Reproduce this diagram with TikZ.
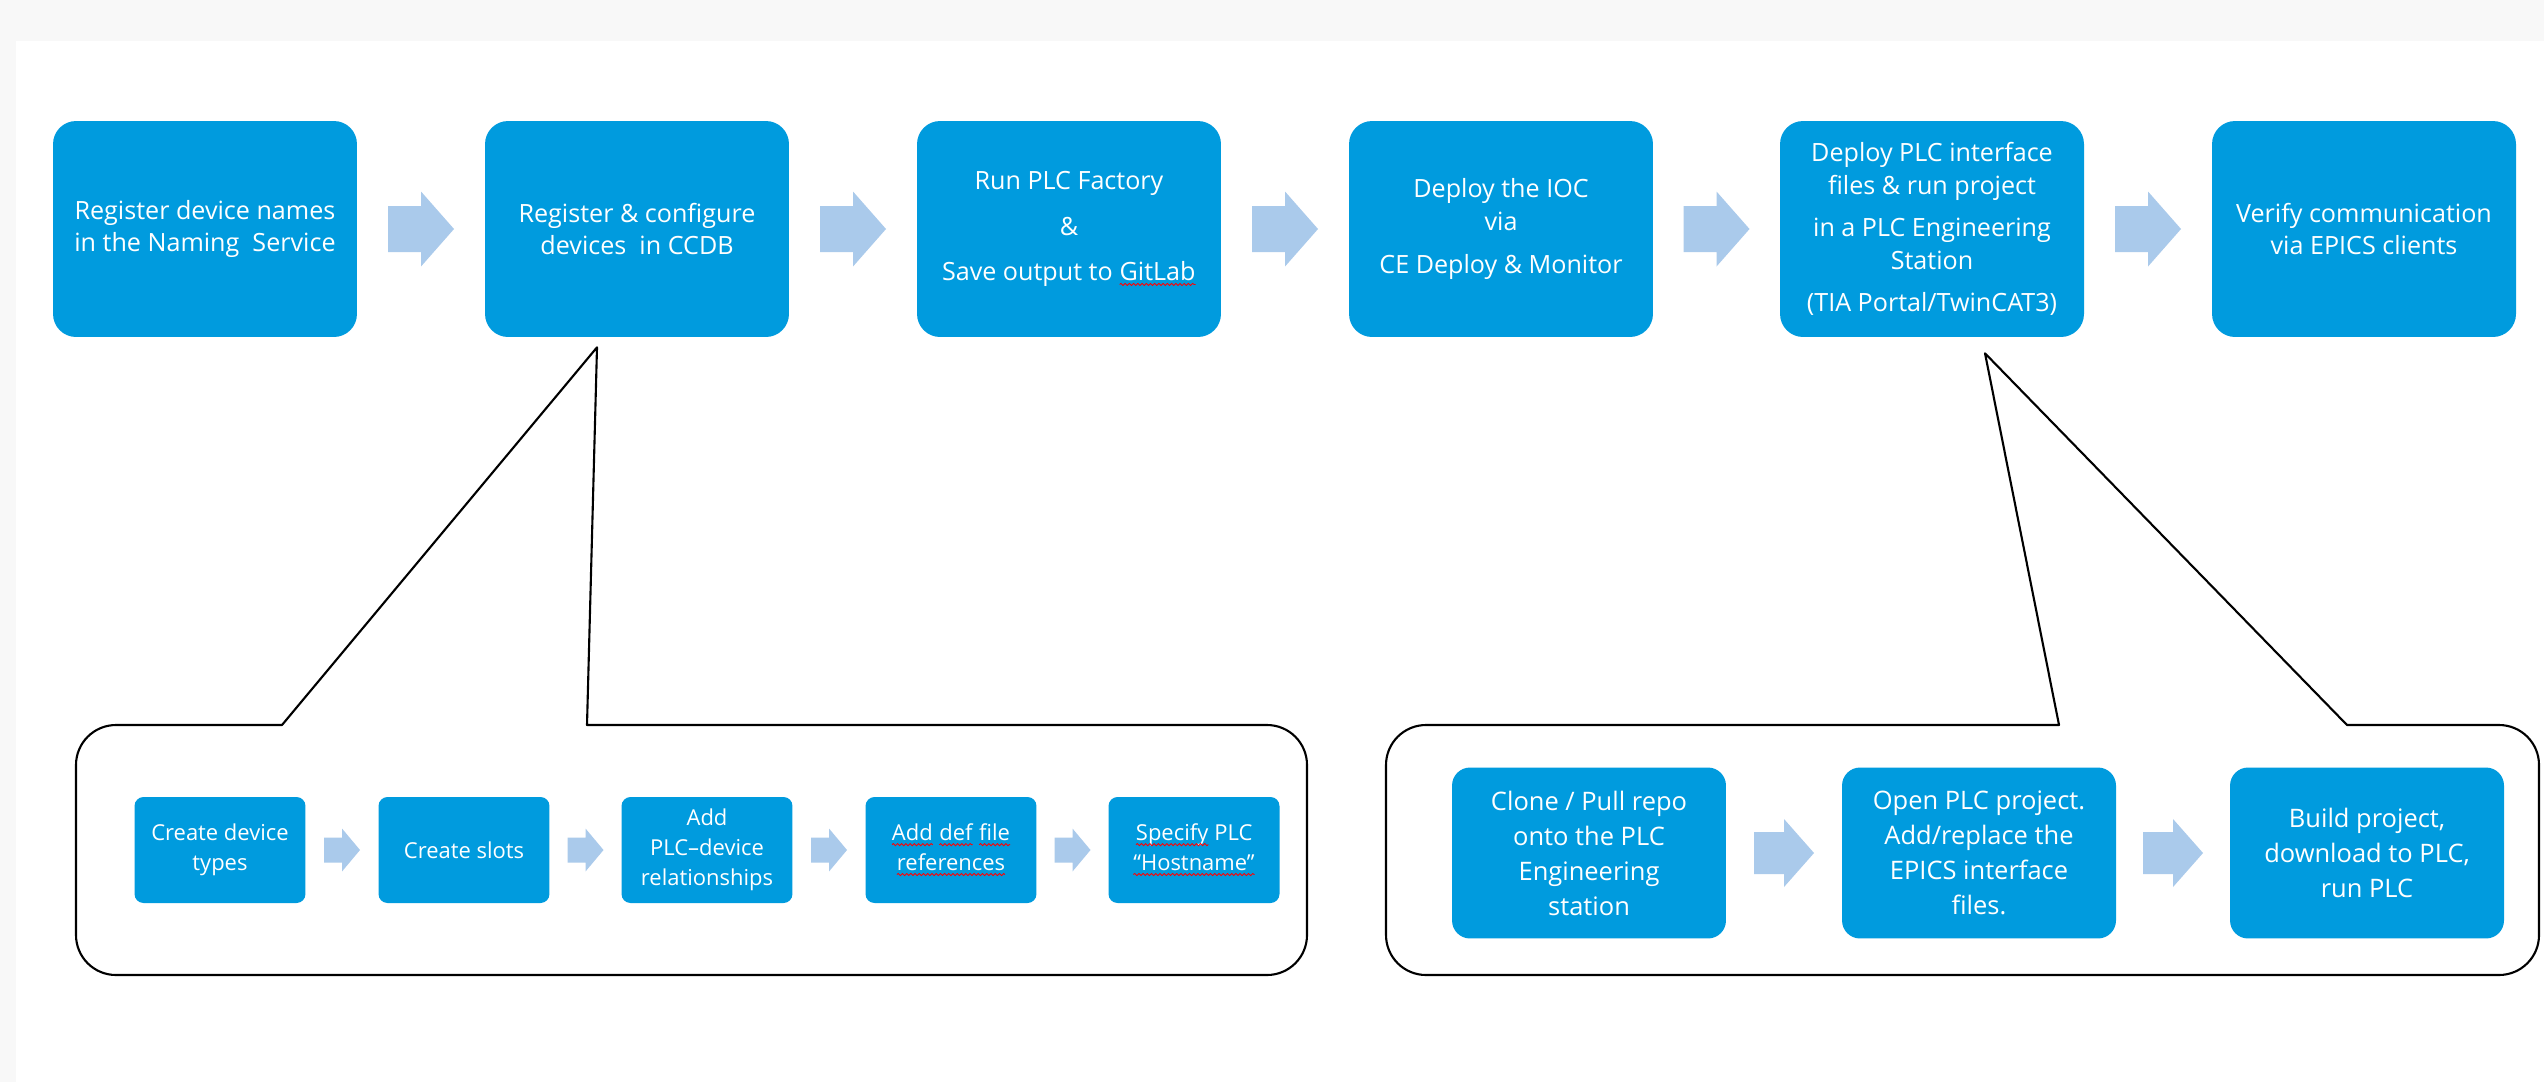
\documentclass[tikz,border=0pt]{standalone}
\usepackage{fontspec}
\setmainfont{Open Sans}
\usetikzlibrary{calc,decorations.pathmorphing}

\definecolor{stepblue}{RGB}{0,155,222}
\definecolor{arrowblue}{RGB}{170,202,235}
\definecolor{pagegray}{RGB}{248,248,248}

% red spell-check wave under a word
\newcommand{\spellwave}[1]{\tikz[baseline=(w.base)]{\node[spellword] (w) {#1};
    \draw[spellline] ([yshift=-2.2pt]w.base west) -- ([yshift=-2.2pt]w.base east);}}

% block arrow in the gap between two nodes
\newcommand{\flowarrow}[5]{%
  \fill[arrowblue,shift={($(#1.east)!0.5!(#2.west)$)}]
    (-#3,-#4) -- (0,-#4) -- (0,-#5) -- (#3,0) -- (0,#5) -- (0,#4) -- (-#3,#4) -- cycle;}

\tikzset{
  mainstep/.style={fill=stepblue, text=white, align=center, inner sep=0pt,
    minimum width=6.08cm, minimum height=4.32cm, rounded corners=0.46cm,
    font=\fontsize{14.3}{18.5}\selectfont},
  ccdbstep/.style={fill=stepblue, text=white, align=center, inner sep=0pt,
    minimum width=3.42cm, minimum height=2.12cm, rounded corners=0.18cm,
    font=\fontsize{12.5}{17}\selectfont},
  plcstep/.style={fill=stepblue, text=white, align=center, inner sep=0pt,
    minimum width=5.48cm, minimum height=3.42cm, rounded corners=0.36cm,
    font=\fontsize{14.5}{19.9}\selectfont},
  spellword/.style={draw=none, fill=none, text=white, inner sep=0pt, outer sep=0pt,
    minimum width=0pt, minimum height=0pt, sharp corners, align=left},
  spellline/.style={draw=red, fill=none, line width=0.5pt, sharp corners,
    decorate, decoration={snake, amplitude=0.6pt, segment length=2.4pt}},
  callout/.style={draw=black, line width=1.2pt, line join=round}
}

\begin{document}
\begin{tikzpicture}[x=0.02cm,y=-0.02cm]
    % page
    \fill[pagegray] (0,0) rectangle (2544,1082);
    \fill[white] (16,41) rectangle (2544,1082);

    % main workflow
    \node[mainstep] (names) at (205,229) {Register device names\\in the Naming~~Service};
    \node[mainstep] (ccdb) at (637,229) {Register \& configure\\devices~~in CCDB};
    \node[mainstep] (factory) at (1069,229) {Run PLC Factory\\[0.26cm]\&\\[0.26cm]Save output to \spellwave{GitLab}};
    \node[mainstep] (ioc) at (1501,229) {Deploy the IOC\\via\\[0.22cm]CE Deploy \& Monitor};
    \node[mainstep] (deploy) at (1932,229) {Deploy PLC interface\\files \& run project\\[0.2cm]in a PLC Engineering\\Station\\[0.2cm](TIA Portal/TwinCAT3)};
    \node[mainstep] (verify) at (2364,229) {Verify communication\\via EPICS clients};
    \foreach \a/\b in {names/ccdb,ccdb/factory,factory/ioc,ioc/deploy,deploy/verify}
        {\flowarrow{\a}{\b}{33}{23}{37.5}}

    % CCDB details
    \coordinate (ccdbtip) at ($(ccdb.south)+(-40,10)$);
    \draw[callout] (587,725) -- (1267,725) arc[start angle=-90,end angle=0,radius=40]
        -- (1307,935) arc[start angle=0,end angle=90,radius=40]
        -- (116,975) arc[start angle=90,end angle=180,radius=40]
        -- (76,765) arc[start angle=180,end angle=270,radius=40]
        -- (282,725) -- (ccdbtip) -- cycle;
    \node[ccdbstep] (types) at (220,850) {Create device\\types};
    \node[ccdbstep] (slots) at (464,850) {Create slots};
    \node[ccdbstep] (relations) at (707,850) {Add\\PLC–device\\relationships};
    \node[ccdbstep] (deffiles) at (951,850) {\spellwave{Add} \spellwave{def} \spellwave{file}\\\spellwave{references}};
    \node[ccdbstep] (hostname) at (1194,850) {\spellwave{Specify} PLC\\\spellwave{“Hostname”}};
    \foreach \a/\b in {types/slots,slots/relations,relations/deffiles,deffiles/hostname}
        {\flowarrow{\a}{\b}{18}{12.5}{21.5}}

    % engineering station details
    \coordinate (deploytip) at ($(deploy.south)+(53,16)$);
    \draw[callout] (2347,725) -- (2499,725) arc[start angle=-90,end angle=0,radius=40]
        -- (2539,935) arc[start angle=0,end angle=90,radius=40]
        -- (1426,975) arc[start angle=90,end angle=180,radius=40]
        -- (1386,765) arc[start angle=180,end angle=270,radius=40]
        -- (2059,725) -- (deploytip) -- cycle;
    \node[plcstep] (clone) at (1589,853) {Clone / Pull repo\\onto the PLC\\Engineering\\station};
    \node[plcstep] (open) at (1979,853) {Open PLC project.\\Add/replace the\\EPICS interface\\files.};
    \node[plcstep] (build) at (2367,853) {Build project,\\download to PLC,\\run PLC};
    \foreach \a/\b in {clone/open,open/build}
        {\flowarrow{\a}{\b}{30}{21}{34}}
\end{tikzpicture}
\end{document}
